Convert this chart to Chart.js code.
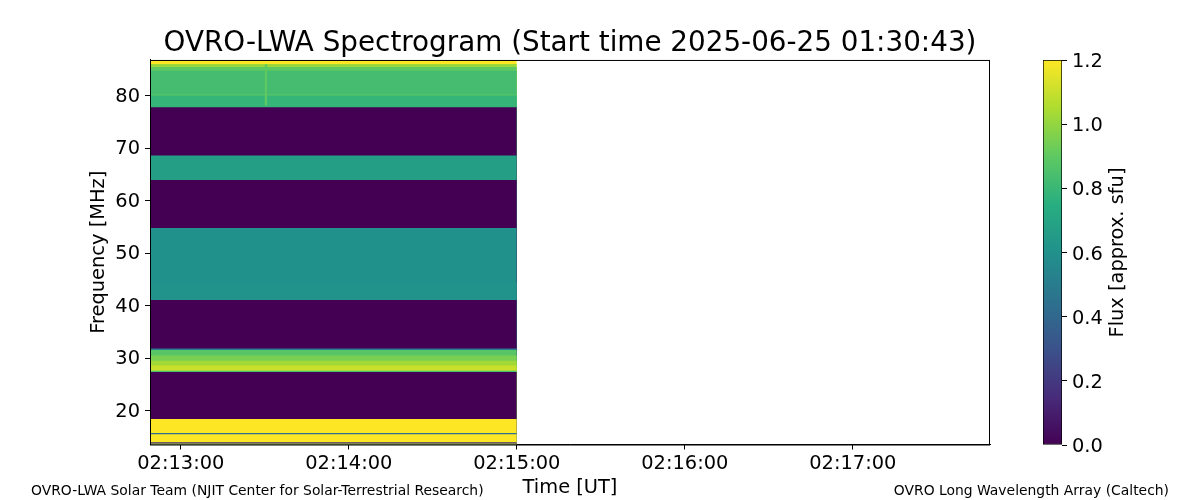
<!DOCTYPE html>
<html lang="en">
<head>
<meta charset="UTF-8">
<title>OVRO-LWA Spectrogram</title>
<script src="https://cdn.jsdelivr.net/npm/chart.js@4.4.1/dist/chart.umd.min.js"></script>
<style>
  body { margin: 0; background: #fff; }
  #wrap { position: relative; width: 1200px; height: 500px; }
  #cbar { position: absolute; left: 1000px; top: 0; }
</style>
</head>
<body>
<div id="wrap">
  <canvas id="spec" width="1200" height="500"></canvas>
  <canvas id="cbar" width="200" height="500"></canvas>
</div>
<script>
// times are seconds of the day (UT)
const timeMin = 7969, timeMax = 8269;
const obsStart = 7969, obsEnd = 8100;
const xTickValues = [7980, 8040, 8100, 8160, 8220];
const xTickLabels = ['02:13:00', '02:14:00', '02:15:00', '02:16:00', '02:17:00'];

const freqMin = 13.55, freqMax = 86.87;
const yTickValues = [20, 30, 40, 50, 60, 70, 80];

// frequency bands, top to bottom: lower edge, upper edge [MHz] and flux [sfu]
const bandLow  = [86.10, 85.55, 84.80, 80.35, 80.10, 77.83, 68.67, 63.98, 54.82, 44.50, 41.09, 31.85,
                  31.55, 30.50, 29.50, 28.60, 27.60, 27.35, 18.39, 15.72, 15.50, 14.00, 13.75, 13.55];
const bandHigh = [86.87, 86.10, 85.55, 84.80, 80.35, 80.10, 77.83, 68.67, 63.98, 54.82, 44.50, 41.09,
                  31.85, 31.55, 30.50, 29.50, 28.60, 27.60, 27.35, 18.39, 15.72, 15.50, 14.00, 13.75];
const bandFlux = [1.20, 1.02, 0.90, 0.83, 0.88, 0.79, 0.00, 0.67, 0.00, 0.60, 0.61, 0.00,
                  0.50, 0.88, 0.95, 1.03, 1.10, 0.85, 0.00, 1.20, 0.45, 1.20, 0.15, 1.05];

// short burst near 02:13:30 in the top band
const burstTime = [8009.9, 8010.9];
const burstFreq = [78.2, 86.0];
const burstFlux = 0.9;

const fluxMin = 0, fluxMax = 1.2;
const cbTickValues = [0, 0.2, 0.4, 0.6, 0.8, 1.0, 1.2];

const titleText = 'OVRO-LWA Spectrogram (Start time 2025-06-25 01:30:43)';
const creditLeft = 'OVRO-LWA Solar Team (NJIT Center for Solar-Terrestrial Research)';
const creditRight = 'OVRO Long Wavelength Array (Caltech)';
const cbLabel = 'Flux [approx. sfu]';

const FONT = "'DejaVu Sans', sans-serif";

// viridis colormap
const viridis = [
  [0.000, '#440154'], [0.125, '#472c7a'], [0.250, '#3b528b'], [0.375, '#2c728e'],
  [0.500, '#21918c'], [0.625, '#28ae80'], [0.750, '#5ec962'], [0.875, '#addc30'], [1.000, '#fde725']
];
function hexRgb(h) { return [1, 3, 5].map(i => parseInt(h.substr(i, 2), 16)); }
function fluxColor(v) {
  let t = Math.min(1, Math.max(0, (v - fluxMin) / (fluxMax - fluxMin)));
  for (let i = 1; i < viridis.length; i++) {
    if (t <= viridis[i][0]) {
      const [p0, c0] = viridis[i - 1], [p1, c1] = viridis[i];
      const f = (t - p0) / (p1 - p0);
      const a = hexRgb(c0), b = hexRgb(c1);
      return 'rgb(' + a.map((x, k) => Math.round(x + (b[k] - x) * f)).join(',') + ')';
    }
  }
  return viridis[viridis.length - 1][1];
}

// each band fills down to the bottom; lower bands are painted over it (no seams)
const datasets = bandLow.map((lo, i) => ({
  data: [{ x: obsStart, y: bandHigh[i] }, { x: obsEnd, y: bandHigh[i] }],
  fill: { value: freqMin },
  backgroundColor: fluxColor(bandFlux[i]),
  borderWidth: 0,
  pointRadius: 0,
  order: bandLow.length - i
}));
datasets.push({
  data: [{ x: burstTime[0], y: burstFreq[1] }, { x: burstTime[1], y: burstFreq[1] }],
  fill: { value: burstFreq[0] },
  backgroundColor: fluxColor(burstFlux),
  borderWidth: 0,
  pointRadius: 0,
  order: 0
});

const tickFont = { family: FONT, size: 19.4 };

// top/right spines and credit lines
const framePlugin = {
  id: 'frame',
  afterDraw(chart) {
    const { ctx, chartArea: a } = chart;
    ctx.save();
    ctx.strokeStyle = '#000';
    ctx.lineWidth = 1;
    ctx.strokeRect(a.left + 0.5, a.top + 0.5, a.right - a.left - 1, a.bottom - a.top);
    ctx.fillStyle = '#000';
    ctx.font = '13.9px ' + FONT;
    ctx.textBaseline = 'alphabetic';
    ctx.textAlign = 'left';
    ctx.fillText(creditLeft, 31, 495);
    ctx.textAlign = 'right';
    ctx.fillText(creditRight, 1169, 495);
    ctx.restore();
  }
};

new Chart(document.getElementById('spec'), {
  type: 'line',
  data: { datasets: datasets },
  plugins: [framePlugin],
  options: {
    responsive: false,
    animation: false,
    layout: { padding: { left: 0, top: 0, bottom: 0, right: 210 } },
    plugins: {
      legend: { display: false },
      tooltip: { enabled: false },
      title: {
        display: true,
        text: titleText,
        fullSize: false,
        color: '#000',
        font: { family: FONT, size: 27.8, weight: 'normal' },
        padding: { top: 27.5, bottom: -0.9 }
      }
    },
    scales: {
      x: {
        type: 'linear',
        min: timeMin,
        max: timeMax,
        afterFit: s => { s.height = 55.5; },
        afterBuildTicks: s => { s.ticks = xTickValues.map(v => ({ value: v })); },
        ticks: {
          autoSkip: false,
          maxRotation: 0,
          padding: 3,
          color: '#000',
          font: tickFont,
          callback: v => xTickLabels[xTickValues.indexOf(v)]
        },
        grid: { drawOnChartArea: false, tickLength: 5, color: '#000' },
        border: { color: '#000' },
        title: { display: true, text: 'Time [UT]', color: '#000', font: tickFont, padding: 0 }
      },
      y: {
        type: 'linear',
        min: freqMin,
        max: freqMax,
        afterFit: s => { s.width = 150; },
        afterBuildTicks: s => { s.ticks = yTickValues.map(v => ({ value: v })); },
        ticks: { padding: 5, labelOffset: 1, color: '#000', font: tickFont },
        grid: { drawOnChartArea: false, tickLength: 5, color: '#000' },
        border: { color: '#000' },
        title: { display: true, text: 'Frequency [MHz]', color: '#000', font: tickFont, padding: { top: 87.7, bottom: 0 } }
      }
    }
  }
});

// colorbar
const cbLabelPlugin = {
  id: 'cbLabel',
  afterDraw(chart) {
    const ctx = chart.ctx;
    ctx.save();
    ctx.fillStyle = '#000';
    ctx.font = '19.4px ' + FONT;
    ctx.textAlign = 'center';
    ctx.textBaseline = 'alphabetic';
    ctx.translate(122.5, (chart.chartArea.top + chart.chartArea.bottom) / 2);
    ctx.rotate(-Math.PI / 2);
    ctx.fillText(cbLabel, 0, 0);
    ctx.restore();
  }
};

new Chart(document.getElementById('cbar'), {
  type: 'bar',
  data: {
    labels: ['flux'],
    datasets: [{
      data: [[fluxMin, fluxMax]],
      backgroundColor: c => {
        const a = c.chart.chartArea;
        if (!a) return null;
        const g = c.chart.ctx.createLinearGradient(0, a.bottom, 0, a.top);
        viridis.forEach(([p, col]) => g.addColorStop(p, col));
        return g;
      },
      borderColor: '#000',
      borderWidth: 1,
      borderSkipped: false,
      categoryPercentage: 1,
      barPercentage: 1
    }]
  },
  plugins: [cbLabelPlugin],
  options: {
    responsive: false,
    animation: false,
    layout: { padding: { left: 43, top: 60, bottom: 55, right: 0 } },
    plugins: { legend: { display: false }, tooltip: { enabled: false } },
    scales: {
      x: { display: false },
      y: {
        position: 'right',
        min: fluxMin,
        max: fluxMax,
        afterFit: s => { s.width = 138; s.paddingTop = 0; s.paddingBottom = 0; },
        afterBuildTicks: s => { s.ticks = cbTickValues.map(v => ({ value: v })); },
        ticks: { padding: 5, labelOffset: 2, color: '#000', font: tickFont, callback: v => v.toFixed(1) },
        grid: { drawOnChartArea: false, tickLength: 5, color: '#000' },
        border: { display: false }
      }
    }
  }
});
</script>
</body>
</html>
